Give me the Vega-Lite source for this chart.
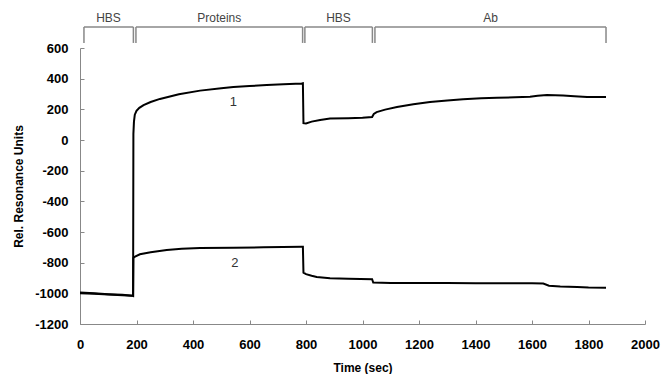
{
  "$schema": "https://vega.github.io/schema/vega-lite/v6.json",
  "autosize": "none",
  "width": 565,
  "height": 276,
  "padding": {"left": 80, "top": 48, "right": 17, "bottom": 50},
  "background": "white",
  "config": {
    "font": "Liberation Sans",
    "view": {"stroke": null},
    "axis": {"labelOverlap": false, "labelFlush": false, "grid": false},
    "axisY": {"tickCount": 10}
  },
  "datasets": {
    "curves": [
      {"t": 0, "v": -1000, "s": "1"}, {"t": 50, "v": -1003, "s": "1"}, {"t": 100, "v": -1008, "s": "1"}, {"t": 150, "v": -1012, "s": "1"}, {"t": 186, "v": -1015, "s": "1"}, {"t": 188, "v": -1015, "s": "1"}, {"t": 189, "v": 40, "s": "1"}, {"t": 191, "v": 120, "s": "1"}, {"t": 194, "v": 165, "s": "1"}, {"t": 200, "v": 190, "s": "1"}, {"t": 210, "v": 210, "s": "1"}, {"t": 225, "v": 228, "s": "1"}, {"t": 250, "v": 248, "s": "1"}, {"t": 283, "v": 268, "s": "1"}, {"t": 350, "v": 298, "s": "1"}, {"t": 425, "v": 322, "s": "1"}, {"t": 500, "v": 338, "s": "1"}, {"t": 543, "v": 345, "s": "1"}, {"t": 600, "v": 352, "s": "1"}, {"t": 661, "v": 358, "s": "1"}, {"t": 720, "v": 363, "s": "1"}, {"t": 785, "v": 368, "s": "1"}, {"t": 789, "v": 370, "s": "1"}, {"t": 791, "v": 110, "s": "1"}, {"t": 800, "v": 108, "s": "1"}, {"t": 820, "v": 120, "s": "1"}, {"t": 850, "v": 130, "s": "1"}, {"t": 885, "v": 140, "s": "1"}, {"t": 950, "v": 142, "s": "1"}, {"t": 1000, "v": 145, "s": "1"}, {"t": 1034, "v": 150, "s": "1"}, {"t": 1040, "v": 170, "s": "1"}, {"t": 1050, "v": 182, "s": "1"}, {"t": 1080, "v": 198, "s": "1"}, {"t": 1122, "v": 215, "s": "1"}, {"t": 1180, "v": 233, "s": "1"}, {"t": 1239, "v": 248, "s": "1"}, {"t": 1300, "v": 258, "s": "1"}, {"t": 1356, "v": 266, "s": "1"}, {"t": 1420, "v": 272, "s": "1"}, {"t": 1476, "v": 275, "s": "1"}, {"t": 1540, "v": 279, "s": "1"}, {"t": 1593, "v": 282, "s": "1"}, {"t": 1620, "v": 288, "s": "1"}, {"t": 1653, "v": 293, "s": "1"}, {"t": 1710, "v": 291, "s": "1"}, {"t": 1750, "v": 286, "s": "1"}, {"t": 1795, "v": 281, "s": "1"}, {"t": 1862, "v": 280, "s": "1"},
      {"t": 0, "v": -995, "s": "2"}, {"t": 50, "v": -1000, "s": "2"}, {"t": 100, "v": -1006, "s": "2"}, {"t": 150, "v": -1010, "s": "2"}, {"t": 186, "v": -1015, "s": "2"}, {"t": 188, "v": -1017, "s": "2"}, {"t": 189, "v": -770, "s": "2"}, {"t": 195, "v": -760, "s": "2"}, {"t": 212, "v": -745, "s": "2"}, {"t": 250, "v": -732, "s": "2"}, {"t": 307, "v": -718, "s": "2"}, {"t": 360, "v": -710, "s": "2"}, {"t": 425, "v": -705, "s": "2"}, {"t": 543, "v": -702, "s": "2"}, {"t": 650, "v": -700, "s": "2"}, {"t": 785, "v": -697, "s": "2"}, {"t": 789, "v": -697, "s": "2"}, {"t": 791, "v": -865, "s": "2"}, {"t": 800, "v": -875, "s": "2"}, {"t": 820, "v": -885, "s": "2"}, {"t": 838, "v": -893, "s": "2"}, {"t": 885, "v": -902, "s": "2"}, {"t": 950, "v": -905, "s": "2"}, {"t": 1034, "v": -908, "s": "2"}, {"t": 1038, "v": -930, "s": "2"}, {"t": 1100, "v": -932, "s": "2"}, {"t": 1200, "v": -932, "s": "2"}, {"t": 1300, "v": -933, "s": "2"}, {"t": 1400, "v": -934, "s": "2"}, {"t": 1500, "v": -934, "s": "2"}, {"t": 1600, "v": -935, "s": "2"}, {"t": 1640, "v": -936, "s": "2"}, {"t": 1660, "v": -950, "s": "2"}, {"t": 1700, "v": -955, "s": "2"}, {"t": 1760, "v": -958, "s": "2"}, {"t": 1800, "v": -962, "s": "2"}, {"t": 1862, "v": -964, "s": "2"}
    ],
    "curveLabels": [
      {"t": 543, "v": 245, "label": "1"},
      {"t": 548, "v": -800, "label": "2"}
    ],
    "phases": [
      {"label": "HBS", "start": 14, "end": 189, "mid": 101},
      {"label": "Proteins", "start": 198, "end": 788, "mid": 493},
      {"label": "HBS", "start": 796, "end": 1035, "mid": 915},
      {"label": "Ab", "start": 1044, "end": 1862, "mid": 1453}
    ]
  },
  "layer": [
    {
      "data": {"name": "curves"},
      "mark": {"type": "line", "color": "black", "strokeWidth": 2, "interpolate": "linear"},
      "encoding": {
        "x": {
          "field": "t", "type": "quantitative",
          "scale": {"domain": [0, 2000], "nice": false},
          "axis": {
            "title": "Time (sec)", "values": [0, 200, 400, 600, 800, 1000, 1200, 1400, 1600, 1800, 2000],
            "labelExpr": "'' + datum.value", "labelOverlap": false, "labelFlush": false,
            "grid": false, "domainColor": "#888", "tickColor": "#888", "tickSize": -4,
            "labelFontSize": 13, "labelFontWeight": "bold", "labelColor": "black", "labelPadding": 18, "labelBaseline": "top",
            "titleFontSize": 12, "titleFontWeight": "bold", "titleColor": "black", "titleY": 43, "titleBaseline": "middle"
          }
        },
        "y": {
          "field": "v", "type": "quantitative",
          "scale": {"domain": [-1200, 600], "nice": false},
          "axis": {
            "title": "Rel. Resonance Units", "values": [-1200, -1000, -800, -600, -400, -200, 0, 200, 400, 600],
            "labelExpr": "'' + datum.value", "labelOverlap": false, "labelFlush": false,
            "grid": false, "domainColor": "#888", "tickColor": "#888", "tickSize": -4,
            "labelFontSize": 13, "labelFontWeight": "bold", "labelColor": "black", "labelPadding": 16,
            "titleFontSize": 12, "titleFontWeight": "bold", "titleColor": "black", "titleX": -62, "titleY": 138, "titleBaseline": "middle"
          }
        },
        "detail": {"field": "s"}
      }
    },
    {
      "data": {"name": "curveLabels"},
      "mark": {"type": "text", "fontSize": 13, "color": "#333"},
      "encoding": {
        "x": {"field": "t", "type": "quantitative"},
        "y": {"field": "v", "type": "quantitative"},
        "text": {"field": "label"}
      }
    },
    {
      "data": {"name": "phases"},
      "mark": {"type": "rule", "color": "#888", "strokeWidth": 1.5},
      "encoding": {
        "x": {"field": "start", "type": "quantitative"},
        "x2": {"field": "end"},
        "y": {"datum": 737}
      }
    },
    {
      "data": {"name": "phases"},
      "mark": {"type": "rule", "color": "#888", "strokeWidth": 1.5},
      "encoding": {
        "x": {"field": "start", "type": "quantitative"},
        "y": {"datum": 737},
        "y2": {"datum": 633}
      }
    },
    {
      "data": {"name": "phases"},
      "mark": {"type": "rule", "color": "#888", "strokeWidth": 1.5},
      "encoding": {
        "x": {"field": "end", "type": "quantitative"},
        "y": {"datum": 737},
        "y2": {"datum": 633}
      }
    },
    {
      "data": {"name": "phases"},
      "mark": {"type": "text", "fontSize": 12, "color": "#444"},
      "encoding": {
        "x": {"field": "mid", "type": "quantitative"},
        "y": {"datum": 796},
        "text": {"field": "label"}
      }
    }
  ]
}
